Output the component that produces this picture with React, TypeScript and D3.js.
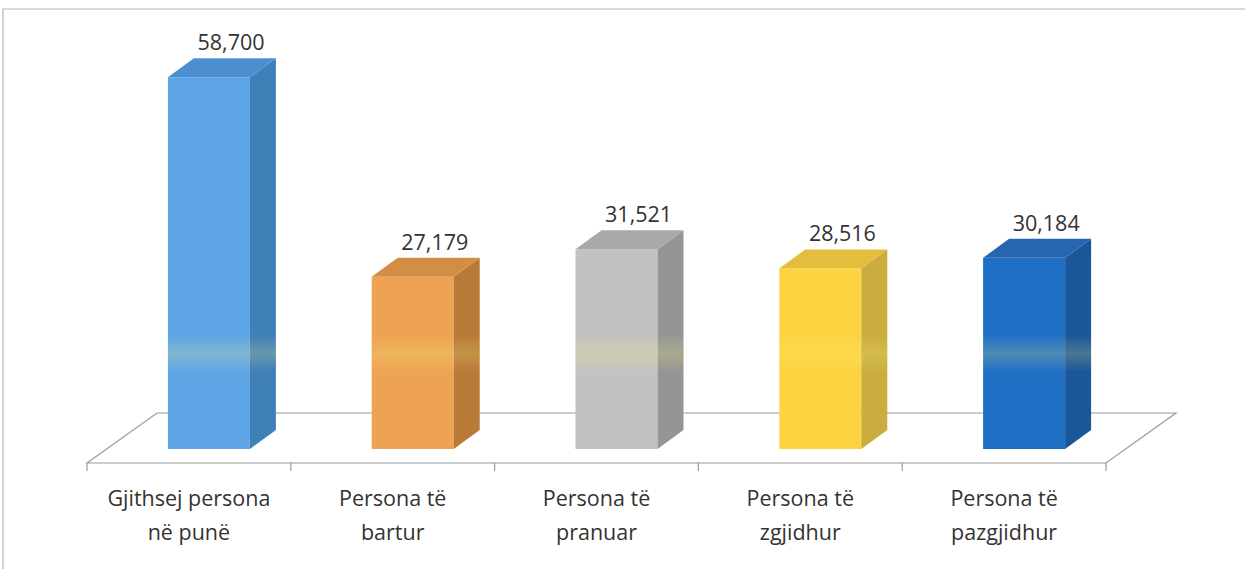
import React from "react";
import * as d3 from "d3";

const categories = [
  ["Gjithsej persona", "në punë"],
  ["Persona të", "bartur"],
  ["Persona të", "pranuar"],
  ["Persona të", "zgjidhur"],
  ["Persona të", "pazgjidhur"],
];
const values = [58700, 27179, 31521, 28516, 30184];
const frontColors = ["#5ea5e6", "#eda352", "#c2c2c2", "#fdd33f", "#1f6fc5"];
const sideColors = ["#3f80b8", "#b97937", "#959595", "#cbad3f", "#1b5699"];
const topColors = ["#4b8fd0", "#d48d44", "#a9a9a9", "#e3bd3c", "#2766ae"];

const W = 1245;
const H = 569;

export default function App() {
  const floorLeft = 87;
  const floorRight = 1106;
  const floorFrontY = 463;
  const floorBackY = 413;
  const floorDx = 70;
  const baseY = 449;
  const depthX = 26;
  const depthY = 19;
  const barW = 82;

  const idx = categories.map((_, i) => String(i));
  const x = d3.scaleBand<string>().domain(idx).range([floorLeft, floorRight]).padding(0);
  const y = d3.scaleLinear().domain([0, 60000]).range([baseY, baseY - 380]);
  const fmt = d3.format(",");

  const floorPath = d3.path();
  floorPath.moveTo(floorLeft, floorFrontY);
  floorPath.lineTo(floorLeft + floorDx, floorBackY);
  floorPath.lineTo(floorRight + floorDx, floorBackY);
  floorPath.lineTo(floorRight, floorFrontY);
  floorPath.closePath();

  const font = "'Open Sans', 'Liberation Sans', sans-serif";

  return (
    <svg width={W} height={H} style={{ position: "absolute", left: 0, top: 0, background: "#fff" }}>
      <defs>
        <linearGradient id="glare" x1="0" y1="335" x2="0" y2="372" gradientUnits="userSpaceOnUse">
          <stop offset="0" stopColor="#fff7a0" stopOpacity={0} />
          <stop offset="0.5" stopColor="#f2ee70" stopOpacity={0.22} />
          <stop offset="1" stopColor="#fff7a0" stopOpacity={0} />
        </linearGradient>
      </defs>
      <path d="M3,569 L3,9 L1245,9" fill="none" stroke="#b5b5b5" strokeWidth={1.2} />

      <path d={floorPath.toString()} fill="#fff" stroke="#9a9a9a" strokeWidth={1.2} />
      {idx.map((k) => (
        <line key={k} x1={x(k)} x2={x(k)} y1={floorFrontY} y2={floorFrontY + 8} stroke="#9a9a9a" strokeWidth={1.2} />
      ))}
      <line x1={floorRight} x2={floorRight} y1={floorFrontY} y2={floorFrontY + 8} stroke="#9a9a9a" strokeWidth={1.2} />

      {values.map((v, i) => {
        const k = String(i);
        const cx = (x(k) as number) + x.bandwidth() / 2 + 20;
        const x0 = cx - barW / 2;
        const x1 = cx + barW / 2;
        const yt = y(v);
        const front = `M${x0},${yt}L${x1},${yt}L${x1},${baseY}L${x0},${baseY}Z`;
        const side = `M${x1},${yt}L${x1 + depthX},${yt - depthY}L${x1 + depthX},${baseY - depthY}L${x1},${baseY}Z`;
        const top = `M${x0},${yt}L${x0 + depthX},${yt - depthY}L${x1 + depthX},${yt - depthY}L${x1},${yt}Z`;
        const glareTop = Math.max(yt, 335);
        return (
          <g key={k}>
            <path d={front} fill={frontColors[i]} />
            <path d={side} fill={sideColors[i]} />
            <path d={top} fill={topColors[i]} />
            {glareTop < 372 && (
              <rect x={x0} y={glareTop} width={barW + depthX} height={372 - glareTop} fill="url(#glare)" />
            )}
            <text
              x={cx + depthX * 0.85}
              y={yt - depthY - 8}
              textAnchor="middle"
              fontFamily={font}
              fontSize={21.5}
              fill="#333"
            >
              {fmt(v)}
            </text>
          </g>
        );
      })}

      {categories.map((lines, i) => {
        const k = String(i);
        const cx = (x(k) as number) + x.bandwidth() / 2;
        return (
          <text key={k} textAnchor="middle" fontFamily={font} fontSize={21.5} fill="#333">
            {lines.map((t, j) => (
              <tspan key={j} x={cx} y={506 + j * 34}>
                {t}
              </tspan>
            ))}
          </text>
        );
      })}
    </svg>
  );
}
